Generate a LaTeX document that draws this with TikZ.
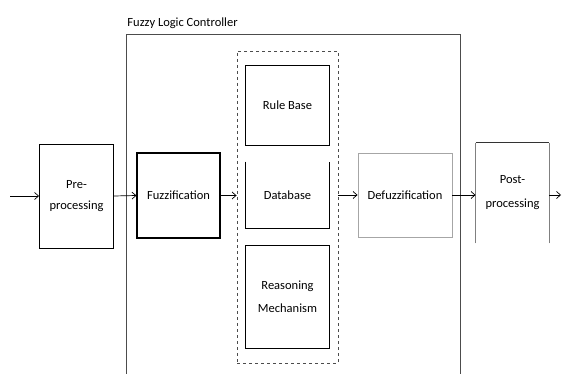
\documentclass[tikz,border=0pt]{standalone}
\usepackage{fontspec}
\setmainfont{Carlito}
\usetikzlibrary{arrows.meta}

\begin{document}
\begin{tikzpicture}[>={Straight Barb[length=4pt,width=7pt]}, x=1pt, y=-1pt, line width=0.9pt,
    block/.style={draw, align=center, font=\fontsize{12.5}{21}\selectfont, inner sep=0pt},
    link/.style={->, line width=0.7pt}]

    \useasboundingbox (0,0) rectangle (562,374);

    % =========================================================================
    % FUZZY LOGIC CONTROLLER: frame open at the bottom
    % =========================================================================
    \coordinate (FLC-bl) at (126,374);
    \coordinate (FLC-tl) at (126,34);
    \coordinate (FLC-tr) at (460,34);
    \coordinate (FLC-br) at (460,374);
    \draw[gray!60!black] (FLC-bl) -- (FLC-tl) -- (FLC-tr) -- (FLC-br);
    \node[anchor=base west, inner sep=0pt, font=\fontsize{12.5}{14}\selectfont] (FLC-title)
        at ([xshift=1pt, yshift=7pt]FLC-tl) {Fuzzy Logic Controller};

    % --- Knowledge part (dashed) ---
    \node[draw, dashed, gray!60!black, minimum width=101pt, minimum height=312pt] (KB) at (287.5,207) {};

    \node[block, minimum width=84pt, minimum height=80pt] (RuleBase) at (287.5,105) {Rule Base};
    \node[align=center, font=\fontsize{12.5}{15}\selectfont, minimum width=83pt, minimum height=66pt, inner sep=0pt] (Database) at (287.5,195) {Database};
    \draw (Database.north west) -- (Database.south west) -- (Database.south east) -- (Database.north east);
    \node[block, minimum width=84pt, minimum height=103pt, font=\fontsize{12.5}{23}\selectfont] (Reasoning) at (287.5,296.5) {Reasoning\\Mechanism};

    % --- Stages ---
    \node[block, line width=1.1pt, minimum width=83pt, minimum height=85pt] (Fuzz) at (178.5,195.5) {Fuzzification};
    \node[block, draw=gray!70, minimum width=94pt, minimum height=84pt] (Defuzz) at (405,195) {Defuzzification};

    % --- Pre- and post-processing ---
    \node[block, minimum width=74pt, minimum height=104pt] (Pre) at (76.5,196) {Pre-\\processing};
    \node[align=center, font=\fontsize{12.5}{24}\selectfont, minimum width=73pt, minimum height=100pt, inner sep=0pt] (Post) at (512.5,193) {Post-\\processing};
    \draw[gray] (Post.south west) -- (Post.north west);
    \draw[gray] (Post.south east) -- (Post.north east);
    \draw[gray!40!black] (Post.north west) -- (Post.north east);

    % --- Signal flow ---
    \coordinate (In) at (10,196);
    \coordinate (Out) at (561,195);
    \draw[link] (In) -- (Pre.west);
    \draw[link] (Pre.east) -- (Fuzz.west);
    \draw[link] (Fuzz.east) -- (Fuzz.east -| KB.west);
    \draw[link] (KB.east |- Defuzz.west) -- (Defuzz.west);
    \draw[link] (Defuzz.east) -- (Defuzz.east -| Post.west);
    \draw[link] (Post.east |- Out) -- (Out);

\end{tikzpicture}
\end{document}
